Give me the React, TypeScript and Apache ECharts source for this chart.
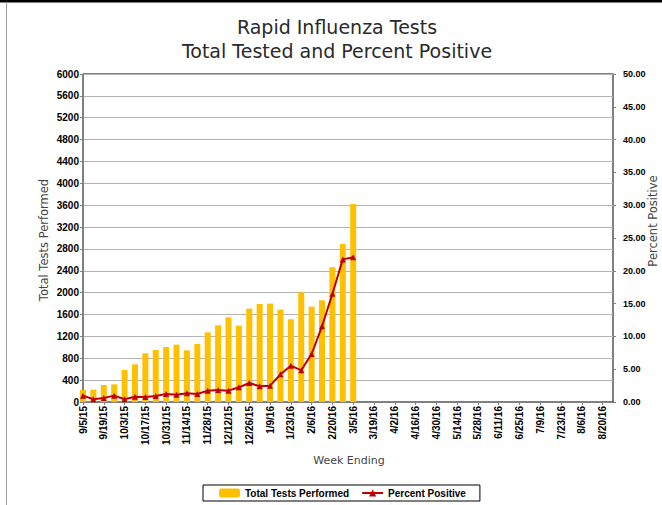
import React, { useEffect, useRef } from 'react';
import * as echarts from 'echarts';

const weeks = [
  '9/5/15', '9/12/15', '9/19/15', '9/26/15', '10/3/15', '10/10/15', '10/17/15', '10/24/15', '10/31/15',
  '11/7/15', '11/14/15', '11/21/15', '11/28/15', '12/5/15', '12/12/15', '12/19/15', '12/26/15',
  '1/2/16', '1/9/16', '1/16/16', '1/23/16', '1/30/16', '2/6/16', '2/13/16', '2/20/16', '2/27/16',
  '3/5/16', '3/12/16', '3/19/16', '3/26/16', '4/2/16', '4/9/16', '4/16/16', '4/23/16', '4/30/16',
  '5/7/16', '5/14/16', '5/21/16', '5/28/16', '6/4/16', '6/11/16', '6/18/16', '6/25/16', '7/2/16',
  '7/9/16', '7/16/16', '7/23/16', '7/30/16', '8/6/16', '8/13/16', '8/20/16', '8/27/16',
];

const totalTests = [
  220, 226, 311, 323, 586, 689, 890, 952, 1006, 1049, 945, 1061, 1275, 1403, 1549, 1397, 1708,
  1793, 1800, 1690, 1513, 2007, 1745, 1860, 2464, 2891, 3622,
];

const percentPositive = [
  0.97, 0.41, 0.61, 0.97, 0.41, 0.81, 0.76, 0.91, 1.22, 1.12, 1.32, 1.22, 1.73, 1.83, 1.73, 2.24,
  2.9, 2.39, 2.49, 4.22, 5.54, 4.83, 7.32, 11.53, 16.51, 21.74, 22.05,
];

const leftAxis = { min: 0, max: 6000, interval: 400 };
const rightAxis = { min: 0, max: 50, interval: 5 };

const titleLines = ['Rapid Influenza Tests', 'Total Tested and Percent Positive'];

export default function App() {
  const ref = useRef<HTMLDivElement>(null);
  useEffect(() => {
    if (!ref.current) return;
    const chart = echarts.init(ref.current, undefined, { renderer: 'svg' });
    const pad = (arr: number[]) => weeks.map((_, i) => (i < arr.length ? arr[i] : null));
    const labelFont = { fontFamily: 'Liberation Sans', fontWeight: 'bold' as const, fontSize: 10, color: '#000' };
    chart.setOption({
      animation: false,
      backgroundColor: '#fff',
      textStyle: { fontFamily: 'Liberation Sans' },
      grid: { left: 83, right: 49, top: 74, bottom: 103, show: true, borderColor: '#000', borderWidth: 1 },
      xAxis: {
        type: 'category',
        data: weeks,
        boundaryGap: false,
        axisLine: { lineStyle: { color: '#808080', width: 1 } },
        axisTick: { show: true, interval: 1, length: 3, lineStyle: { color: '#808080' } },
        axisLabel: { ...labelFont, rotate: 90, interval: 1, margin: 4 },
        splitLine: { show: false },
      },
      yAxis: [
        {
          type: 'value',
          ...leftAxis,
          axisLine: { show: true, lineStyle: { color: '#808080' } },
          axisTick: { show: true, length: 3, lineStyle: { color: '#808080' } },
          axisLabel: { ...labelFont, margin: 4, formatter: (v: number) => String(v) },
          splitLine: { show: true, lineStyle: { color: '#b4b4b4', width: 1 } },
        },
        {
          type: 'value',
          ...rightAxis,
          position: 'right',
          axisLine: { show: true, lineStyle: { color: '#808080' } },
          axisTick: { show: true, length: 3, lineStyle: { color: '#808080' } },
          axisLabel: { ...labelFont, fontSize: 9, margin: 10, formatter: (v: number) => v.toFixed(2) },
          splitLine: { show: false },
        },
      ],
      legend: {
        left: 203,
        top: 485,
        height: 16,
        padding: [3, 14, 3, 16],
        itemGap: 12,
        itemWidth: 21,
        itemHeight: 9,
        borderColor: '#000',
        borderWidth: 1,
        textStyle: { ...labelFont, fontSize: 10 },
        data: [
          { name: 'Total Tests Performed', icon: 'roundRect' },
          { name: 'Percent Positive' },
        ],
      },
      series: [
        {
          name: 'Total Tests Performed',
          type: 'bar',
          data: pad(totalTests),
          yAxisIndex: 0,
          barWidth: 6,
          clip: false,
          itemStyle: { color: '#FFC000' },
        },
        {
          name: 'Percent Positive',
          type: 'line',
          data: pad(percentPositive),
          yAxisIndex: 1,
          symbol: 'triangle',
          symbolSize: 6,
          lineStyle: { color: '#C00000', width: 2 },
          itemStyle: { color: '#C00000' },
        },
      ],
      graphic: [
        { type: 'rect', shape: { x: 0, y: 0, width: 662, height: 2.5 }, style: { fill: '#000' } },
        { type: 'line', shape: { x1: 6.5, y1: 2, x2: 6.5, y2: 505 }, style: { stroke: '#a0a0a0', lineWidth: 1 } },
        {
          type: 'text', x: 337, y: 27,
          style: { text: titleLines[0], font: '19px "DejaVu Sans"', fill: '#2a2a2a', align: 'center', verticalAlign: 'middle' },
        },
        {
          type: 'text', x: 337, y: 51,
          style: { text: titleLines[1], font: '19px "DejaVu Sans"', fill: '#2a2a2a', align: 'center', verticalAlign: 'middle' },
        },
        {
          type: 'text', x: 44, y: 240, rotation: Math.PI / 2,
          style: { text: 'Total Tests Performed', font: '11.5px "DejaVu Sans"', fill: '#444', align: 'center', verticalAlign: 'middle' },
        },
        {
          type: 'text', x: 653, y: 221, rotation: Math.PI / 2,
          style: { text: 'Percent Positive', font: '11.5px "DejaVu Sans"', fill: '#444', align: 'center', verticalAlign: 'middle' },
        },
        {
          type: 'text', x: 349, y: 460,
          style: { text: 'Week Ending', font: '11px "DejaVu Sans"', fill: '#444', align: 'center', verticalAlign: 'middle' },
        },
      ],
    });
    return () => chart.dispose();
  }, []);
  return <div ref={ref} style={{ position: 'fixed', left: 0, top: 0, width: 662, height: 505 }} />;
}
